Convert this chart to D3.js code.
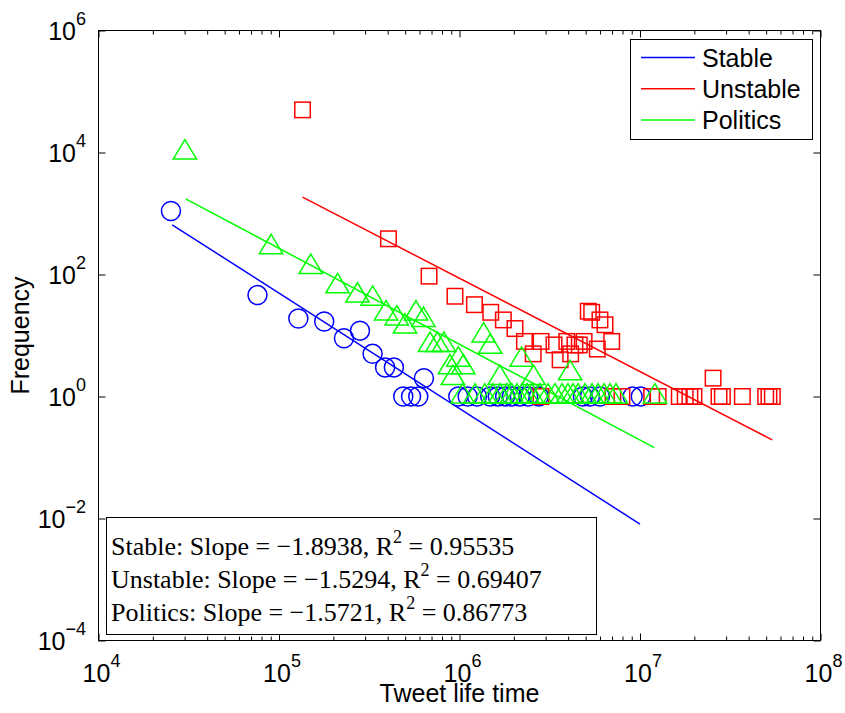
<!DOCTYPE html>
<html>
<head>
<meta charset="utf-8">
<script src="https://cdn.jsdelivr.net/npm/d3@7"></script>
<style>
body{margin:0;background:#fff;}
text{font-family:"Liberation Sans",Arial,Helvetica,sans-serif;fill:#000;}
.serif{font-family:"Liberation Serif","Times New Roman",serif;}
</style>
</head>
<body>
<div id="mainDiv"></div>
<script>
// ---- data ----
const stableX = [2.52e4,7.6e4,1.28e5,1.78e5,2.29e5,2.81e5,3.3e5,3.87e5,4.33e5,6.35e5,
	4.88e5,5.39e5,5.91e5,9.85e5,1.11e6,1.25e6,1.48e6,1.63e6,1.79e6,1.95e6,2.16e6,2.40e6,2.75e6,
	4.83e6,5.28e6,6.0e6,9.1e6,1.01e7];
const stableY = [1100,46,19,17,9,12,5,3,3,2,
	1,1,1,1,1,1,1,1,1,1,1,1,1,
	1,1,1,1,1];

const unstableX = [1.35e5,4.04e5,6.78e5,9.44e5,1.21e6,1.49e6,1.75e6,2.03e6,2.29e6,2.56e6,2.83e6,
	3.34e6,3.61e6,3.93e6,4.13e6,4.36e6,4.61e6,4.90e6,5.17e6,5.40e6,5.80e6,6.0e6,6.40e6,6.97e6,2.54e7,
	2.83e6,7.08e6,7.94e6,1.16e7,1.26e7,1.65e7,1.78e7,1.89e7,1.99e7,2.74e7,2.86e7,3.69e7,4.97e7,5.18e7,5.41e7];
const unstableY = [50000,385,94,44,32,24,18,13,8,5,8,
	7,4,8,5,7,7,8,25,24,6,18,15,8,2,
	1,1,1,1,1,1,1,1,1,1,1,1,1,1,1];

const politicsX = [3.01e4,9.04e4,1.5e5,2.11e5,2.72e5,3.3e5,3.92e5,4.49e5,4.99e5,5.74e5,6.31e5,6.87e5,
	7.54e5,8.2e5,8.85e5,9.85e5,1.05e6,9.2e5,1.36e6,1.48e6,1.67e6,2.21e6,2.57e6,4.1e6,
	1.04e6,1.22e6,1.38e6,1.53e6,1.68e6,1.83e6,1.95e6,2.08e6,2.22e6,2.37e6,2.52e6,2.79e6,3.09e6,
	3.38e6,3.70e6,3.99e6,4.25e6,4.54e6,4.96e6,5.42e6,5.85e6,6.32e6,6.82e6,7.36e6,1.21e7];
const politicsY = [1e4,280,133,64,45,40,23,19,14,23,18,7,
	7,7,3,4,3,2,10,6.5,2,4,2,2.4,
	1,1,1,1,1,1,1,1,1,1,1,1,1,
	1,1,1,1,1,1,1,1,1,1,1,1];

// power-law fit lines, end points [x, y]
const stableFit = [[2.56e4,653],[1.0e7,0.0081]];
const unstableFit = [[1.35e5,1850],[5.4e7,0.195]];
const politicsFit = [[3.04e4,1742],[1.2e7,0.145]];

const seriesNames = ["Stable","Unstable","Politics"];
const seriesColors = ["#0000ff","#ff0000","#00ff00"];
const fitLabels = ["Stable: Slope = \u22121.8938, R","Unstable: Slope = \u22121.5294, R","Politics: Slope = \u22121.5721, R"];
const fitR2 = ["0.95535","0.69407","0.86773"];

const xTickExp = [4,5,6,7,8];
const yTickExp = [-4,-2,0,2,4,6];

// ---- layout ----
var W = 845, H = 713;
var pLeft = 98.5, pRight = 820.5, pTop = 30.5, pBottom = 640.5;

var svg = d3.select("#mainDiv").append("svg")
	.attr("width",W)
	.attr("height",H);

var x = d3.scaleLog().domain([1e4,1e8]).range([pLeft,pRight]);
var y = d3.scaleLog().domain([1e-4,1e6]).range([pBottom,pTop]);

// minor ticks on x only (2..9 x 10^k)
var xMinor = [];
for(var k = 4; k < 8; k++){
	for(var m = 2; m < 10; m++) xMinor.push(m*Math.pow(10,k));
}
var xMajor = xTickExp.map(function(e){return Math.pow(10,e);});
var yMajor = yTickExp.map(function(e){return Math.pow(10,e);});

function noLabel(){return "";}
svg.append("g").attr("transform","translate(0,"+pBottom+")")
	.call(d3.axisBottom(x).tickValues(xMinor).tickSize(-4).tickFormat(noLabel));
svg.append("g").attr("transform","translate(0,"+pBottom+")")
	.call(d3.axisBottom(x).tickValues(xMajor).tickSize(-7).tickFormat(noLabel));
svg.append("g").attr("transform","translate(0,"+pTop+")")
	.call(d3.axisTop(x).tickValues(xMinor).tickSize(-4).tickFormat(noLabel));
svg.append("g").attr("transform","translate(0,"+pTop+")")
	.call(d3.axisTop(x).tickValues(xMajor).tickSize(-7).tickFormat(noLabel));
svg.append("g").attr("transform","translate("+pLeft+",0)")
	.call(d3.axisLeft(y).tickValues(yMajor).tickSize(-7).tickFormat(noLabel));
svg.append("g").attr("transform","translate("+pRight+",0)")
	.call(d3.axisRight(y).tickValues(yMajor).tickSize(-7).tickFormat(noLabel));
svg.selectAll(".domain").remove();
svg.selectAll(".tick line").attr("stroke","#000").attr("stroke-width",1);

svg.append("rect")
	.attr("x",pLeft).attr("y",pTop)
	.attr("width",pRight-pLeft).attr("height",pBottom-pTop)
	.attr("fill","none").attr("stroke","#000").attr("stroke-width",1);

// tick labels 10^k
xTickExp.forEach(function(e){
	var t = svg.append("text")
		.attr("x",x(Math.pow(10,e))+3)
		.attr("y",681.5)
		.attr("text-anchor","middle")
		.style("font-size","25px");
	t.append("tspan").text("10");
	t.append("tspan").attr("dy",-15).style("font-size","18px").text(e);
});
yTickExp.forEach(function(e){
	var t = svg.append("text")
		.attr("x",86)
		.attr("y",y(Math.pow(10,e))+9)
		.attr("text-anchor","end")
		.style("font-size","25px");
	t.append("tspan").text("10");
	t.append("tspan").attr("dy",-15).style("font-size","18px").text(e<0 ? "\u2212"+(-e) : e);
});

svg.append("text")
	.attr("x",(pLeft+pRight)/2)
	.attr("y",702)
	.attr("text-anchor","middle")
	.style("font-size","25px")
	.text("Tweet life time");
svg.append("text")
	.attr("transform","translate(29,"+((pTop+pBottom)/2)+") rotate(-90)")
	.attr("text-anchor","middle")
	.style("font-size","25px")
	.text("Frequency");

// fit lines
var plot = svg.append("g");
var line = d3.line().x(function(d){return x(d[0]);}).y(function(d){return y(d[1]);});
[stableFit,unstableFit,politicsFit].forEach(function(f,i){
	plot.append("path")
		.attr("d",line(f))
		.attr("fill","none")
		.attr("stroke",seriesColors[i])
		.attr("stroke-width",1.5);
});

// markers
function pts(xs,ys){return xs.map(function(v,i){return [v,ys[i]];});}

plot.selectAll(".stable").data(pts(stableX,stableY)).enter().append("circle")
	.attr("cx",function(d){return x(d[0]);})
	.attr("cy",function(d){return y(d[1]);})
	.attr("r",9.5)
	.attr("fill","none").attr("stroke",seriesColors[0]).attr("stroke-width",1.5);

plot.selectAll(".unstable").data(pts(unstableX,unstableY)).enter().append("rect")
	.attr("x",function(d){return x(d[0])-7.75;})
	.attr("y",function(d){return y(d[1])-7.75;})
	.attr("width",15.5).attr("height",15.5)
	.attr("fill","none").attr("stroke",seriesColors[1]).attr("stroke-width",1.5);

// triangle is centred on its centroid
var tri = "M0,-12.9 L11.65,6.45 L-11.65,6.45 Z";
plot.selectAll(".politics").data(pts(politicsX,politicsY)).enter().append("path")
	.attr("d",tri)
	.attr("transform",function(d){return "translate("+x(d[0])+","+y(d[1])+")";})
	.attr("fill","none").attr("stroke",seriesColors[2]).attr("stroke-width",1.5);

// legend
var lg = svg.append("g");
lg.append("rect")
	.attr("x",630.5).attr("y",39.5).attr("width",182).attr("height",100)
	.attr("fill","#fff").attr("stroke","#000").attr("stroke-width",1);
seriesNames.forEach(function(n,i){
	var ly = 57.5 + i*31.3;
	lg.append("line")
		.attr("x1",641).attr("x2",695).attr("y1",ly).attr("y2",ly)
		.attr("stroke",seriesColors[i]).attr("stroke-width",1.5);
	lg.append("text")
		.attr("x",702).attr("y",ly+9)
		.style("font-size","25px")
		.text(n);
});

// fit summary box
var fb = svg.append("g");
fb.append("rect")
	.attr("x",106.5).attr("y",517.5).attr("width",490).attr("height",117)
	.attr("fill","#fff").attr("stroke","#000").attr("stroke-width",1);
fitLabels.forEach(function(s,i){
	var t = fb.append("text")
		.attr("class","serif")
		.attr("x",111).attr("y",555+i*33)
		.style("font-size","26px");
	t.append("tspan").text(s);
	t.append("tspan").attr("dy",-12).style("font-size","18px").text("2");
	t.append("tspan").attr("dy",12).text(" = "+fitR2[i]);
});
</script>
</body>
</html>
